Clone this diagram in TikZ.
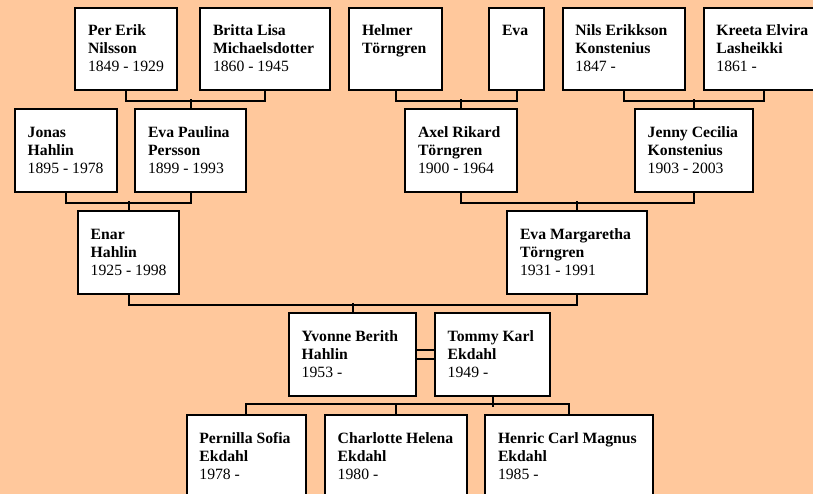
\documentclass[tikz,border=0pt]{standalone}
\usepackage{fontspec}
\setmainfont{Liberation Serif}
\usetikzlibrary{calc}
\definecolor{bgpeach}{RGB}{255,200,156}
\tikzset{
  pbox/.style={draw=black, fill=white, line width=2pt, inner sep=0pt, anchor=north west},
  ptext/.style={inner sep=0pt, align=left, anchor=north west, font=\fontsize{15.7}{18}\selectfont},
  conn/.style={draw=black, line width=2pt},
}
\newcommand{\famnode}[6]{%
  \node[pbox, minimum width=#4pt, minimum height=#5pt] (#1) at (#2,#3) {};
  \node[ptext] (#1t) at ($(#1.north west)+(13.5,16)$) {\rule{0pt}{13pt}#6};
}
\begin{document}
\begin{tikzpicture}[x=1pt, y=-1pt]
\useasboundingbox (0,0) rectangle (813,494);
\clip (0,0) rectangle (813,494);
\fill[bgpeach] (0,0) rectangle (813,494);
% row 1
\famnode{pe}{74.3}{6.7}{101.4}{82.8}{\textbf{Per Erik}\\\textbf{Nilsson}\\1849 - 1929}
\famnode{bl}{199.3}{6.7}{130}{82.8}{\textbf{Britta Lisa}\\\textbf{Michaelsdotter}\\1860 - 1945}
\famnode{hm}{348.3}{6.7}{93}{82.8}{\textbf{Helmer}\\\textbf{Törngren}}
\famnode{ev}{488.3}{6.7}{54.4}{82.8}{\textbf{Eva}}
\famnode{ne}{561.7}{6.7}{122.6}{82.8}{\textbf{Nils Erikkson}\\\textbf{Konstenius}\\1847 -}
\famnode{ke}{702.7}{6.7}{121.2}{82.8}{\textbf{Kreeta Elvira}\\\textbf{Lasheikki}\\1861 -}
% row 2
\famnode{jh}{14}{108.4}{101.7}{82.8}{\textbf{Jonas}\\\textbf{Hahlin}\\1895 - 1978}
\famnode{epp}{134.3}{108.4}{110.7}{82.8}{\textbf{Eva Paulina}\\\textbf{Persson}\\1899 - 1993}
\famnode{ax}{404.3}{108.4}{111.4}{82.8}{\textbf{Axel Rikard}\\\textbf{Törngren}\\1900 - 1964}
\famnode{je}{634}{108.4}{117.7}{82.8}{\textbf{Jenny Cecilia}\\\textbf{Konstenius}\\1903 - 2003}
% row 3
\famnode{en}{77}{210.4}{101.3}{82.8}{\textbf{Enar}\\\textbf{Hahlin}\\1925 - 1998}
\famnode{em}{506.3}{210.4}{140}{82.8}{\textbf{Eva Margaretha}\\\textbf{Törngren}\\1931 - 1991}
% row 4
\famnode{yv}{288}{312.2}{127}{82.8}{\textbf{Yvonne Berith}\\\textbf{Hahlin}\\1953 -}
\famnode{to}{434}{312.2}{115.3}{82.8}{\textbf{Tommy Karl}\\\textbf{Ekdahl}\\1949 -}
% row 5
\famnode{pn}{185.7}{414}{119.3}{100}{\textbf{Pernilla Sofia}\\\textbf{Ekdahl}\\1978 -}
\famnode{ch}{324}{414}{141.7}{100}{\textbf{Charlotte Helena}\\\textbf{Ekdahl}\\1980 -}
\famnode{he}{484.3}{414}{168}{100}{\textbf{Henric Carl Magnus}\\\textbf{Ekdahl}\\1985 -}
% connectors
\draw[conn] (pe.south) -- ++(0,9.6) -| (bl.south);
\draw[conn] (epp.north) -- ++(0,-9.6);
\draw[conn] (hm.south) -- ++(0,9.6) -| (ev.south);
\draw[conn] (ax.north) -- ++(0,-9.6);
\draw[conn] (ne.south) -- ++(0,9.6) -| (ke.south);
\draw[conn] (je.north) -- ++(0,-9.6);
\draw[conn] (jh.south) -- ++(0,9.6) -| (epp.south);
\draw[conn] (en.north) -- ++(0,-9.4);
\draw[conn] (ax.south) -- ++(0,9.6) -| (je.south);
\draw[conn] (em.north) -- ++(0,-9.4);
\draw[conn] (en.south) -- ++(0,9.6) -| (em.south);
\draw[conn] (yv.north) -- ++(0,-9.4);
\draw[conn] ($(yv.east)+(0,-4.2)$) -- ($(to.west)+(0,-4.2)$);
\draw[conn] ($(yv.east)+(0,4.4)$) -- ($(to.west)+(0,4.4)$);
\draw[conn] (to.south) -- ++(0,9.8);
\draw[conn] (pn.north) -- ++(0,-9.8) -| (he.north);
\draw[conn] (ch.north) -- ++(0,-9.8);
\end{tikzpicture}
\end{document}
